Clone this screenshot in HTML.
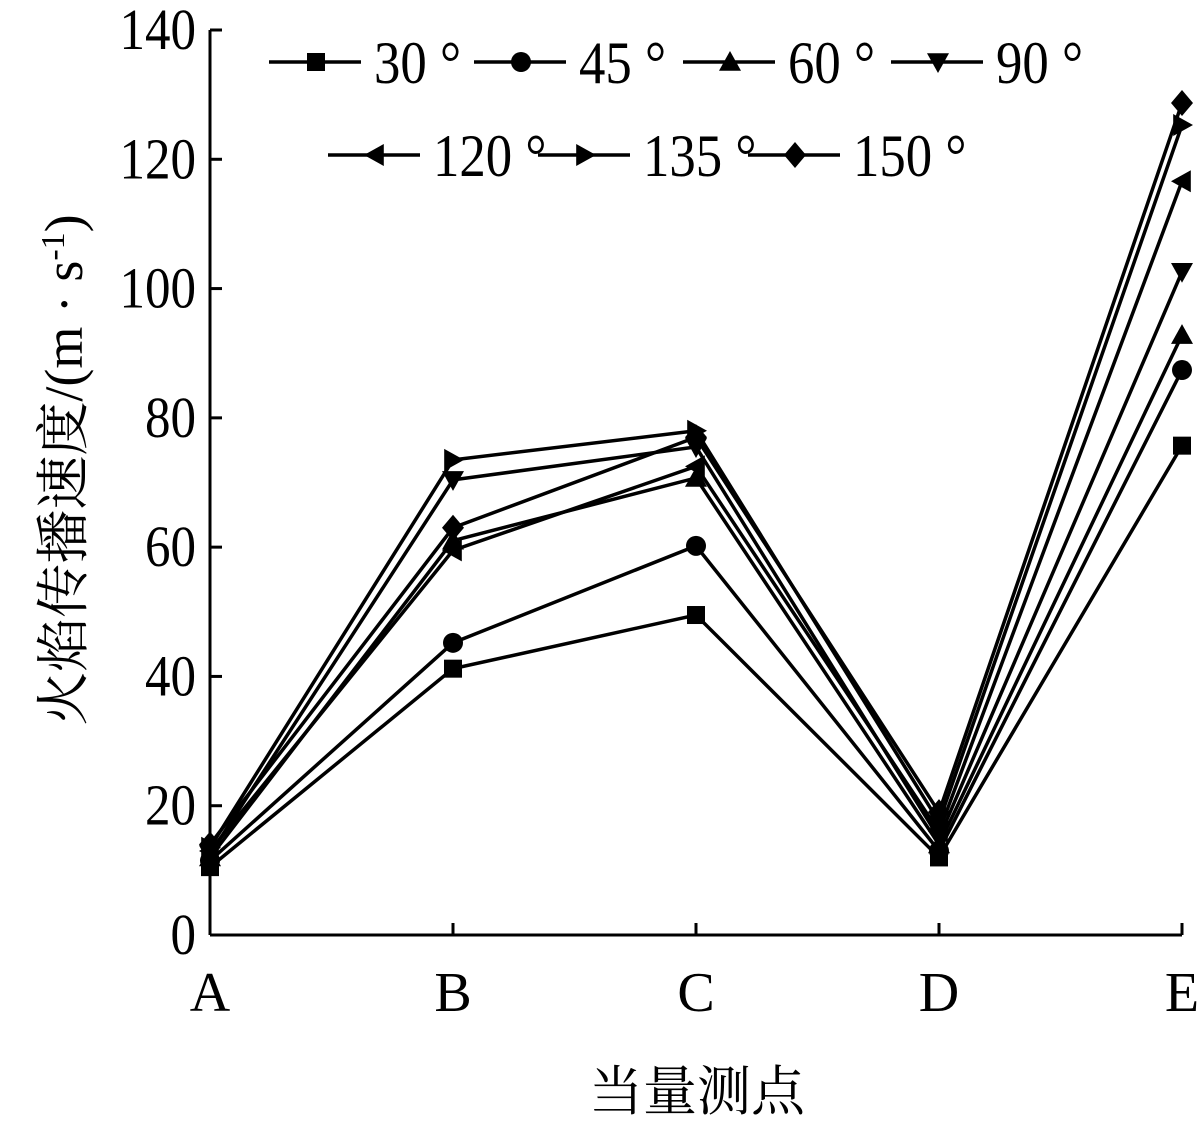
<!DOCTYPE html>
<html><head><meta charset="utf-8"><style>
html,body{margin:0;padding:0;background:#fff;}
svg{display:block;font-family:"Liberation Serif","Noto Serif CJK SC",serif;}
</style></head><body>
<svg id="chart" width="1202" height="1128" viewBox="0 0 1202 1128" xmlns="http://www.w3.org/2000/svg">
<g id="axes"></g>
<g id="series"></g>
<g id="legend"></g>
<text transform="translate(82,470) rotate(-90)" text-anchor="middle" font-size="54" fill="#000">火焰传播速度/(m · s<tspan dy="-18" font-size="34">-1</tspan><tspan dy="18">)</tspan></text>
<text x="697" y="1110" text-anchor="middle" font-size="54" fill="#000">当量测点</text>
</svg>
<script>
const categories = ["A","B","C","D","E"];
const yTicks = [0,20,40,60,80,100,120,140];
const seriesNames = ["30°","45°","60°","90°","120°","135°","150°"];
const s30 = [10.5,41.2,49.5,12,75.7];
const s45 = [11.5,45.2,60.2,13,87.4];
const s60 = [12,61,70.7,14,92.8];
const s90 = [12.5,70.4,75.5,15,102.6];
const s120 = [13,59.5,72.5,16,116.6];
const s135 = [13.5,73.5,78,17.5,125.3];
const s150 = [14,63,77,19,128.7];
const allSeries = [s30,s45,s60,s90,s120,s135,s150];
const markers = ["square","circle","up","down","left","right","diamond"];

const NS="http://www.w3.org/2000/svg";
const x0=210, x1=1182, yb=935, yt=30, vmax=140;
function xs(i){return x0+i*(x1-x0)/(categories.length-1);}
function ys(v){return yb-v*(yb-yt)/vmax;}
function mk(tag,attrs,parent){const e=document.createElementNS(NS,tag);for(const k in attrs)e.setAttribute(k,attrs[k]);parent.appendChild(e);return e;}
function marker(type,cx,cy,parent){
  const r=11;let e;
  if(type==="square")e=mk("rect",{x:cx-9,y:cy-9,width:18,height:18,fill:"#000"},parent);
  else if(type==="circle")e=mk("circle",{cx:cx,cy:cy,r:10,fill:"#000"},parent);
  else{let p;
    if(type==="up")p=[[cx,cy-r],[cx+r,cy+r*0.8],[cx-r,cy+r*0.8]];
    else if(type==="down")p=[[cx,cy+r],[cx+r,cy-r*0.8],[cx-r,cy-r*0.8]];
    else if(type==="left")p=[[cx-r,cy],[cx+r*0.8,cy-r],[cx+r*0.8,cy+r]];
    else if(type==="right")p=[[cx+r,cy],[cx-r*0.8,cy-r],[cx-r*0.8,cy+r]];
    else p=[[cx,cy-13],[cx+11,cy],[cx,cy+13],[cx-11,cy]];
    e=mk("polygon",{points:p.map(q=>q.join(",")).join(" "),fill:"#000"},parent);}
  return e;
}
const axes=document.getElementById("axes");
const yl=mk("line",{x1:x0,y1:yt,x2:x0,y2:yb,stroke:"#000","stroke-width":3},axes);


const xl=mk("line",{x1:x0,y1:yb,x2:x1,y2:yb,stroke:"#000","stroke-width":3},axes);


yTicks.forEach(v=>{
  const y=ys(v);
  const t=mk("line",{x1:x0,y1:y,x2:x0+12,y2:y,stroke:"#000","stroke-width":3},axes);
  
  
  const l=mk("text",{x:0,y:0,"text-anchor":"end","font-size":58,transform:"translate("+(x0-14)+","+(y+19)+") scale(0.88,1)"},axes);
  l.textContent=v;
  
  
});
categories.forEach((c,i)=>{
  const x=xs(i);
  const t=mk("line",{x1:x,y1:yb,x2:x,y2:yb-12,stroke:"#000","stroke-width":3},axes);
  
  
  const l=mk("text",{x:x,y:yb+76,"text-anchor":"middle","font-size":56},axes);
  l.textContent=c;
  
  
});
const sg=document.getElementById("series");
allSeries.forEach((data,si)=>{
  const g=mk("g",{},sg);
  
  
  const pl=mk("polyline",{points:data.map((v,i)=>xs(i)+","+ys(v)).join(" "),fill:"none",stroke:"#000","stroke-width":3.5},g);
  
  
  data.forEach((v,i)=>{
    const m=marker(markers[si],xs(i),ys(v),g);
    
    
  });
});
const lg=document.getElementById("legend");
const legPos=[[316,62],[521,62],[730,62],[938,62],[375,155],[585,155],[795,155]];
seriesNames.forEach((n,i)=>{
  const [cx,cy]=legPos[i];
  const g=mk("g",{},lg);
  
  
  mk("line",{x1:cx-47,y1:cy,x2:cx+45,y2:cy,stroke:"#000","stroke-width":3.5},g);
  marker(markers[i],cx,cy,g);
  const t=mk("text",{x:0,y:0,"font-size":60,transform:"translate("+(cx+58)+","+(cy+21)+") scale(0.88,1)"},g);
  t.textContent=n.replace('°',' °');
});
</script>
</body></html>
